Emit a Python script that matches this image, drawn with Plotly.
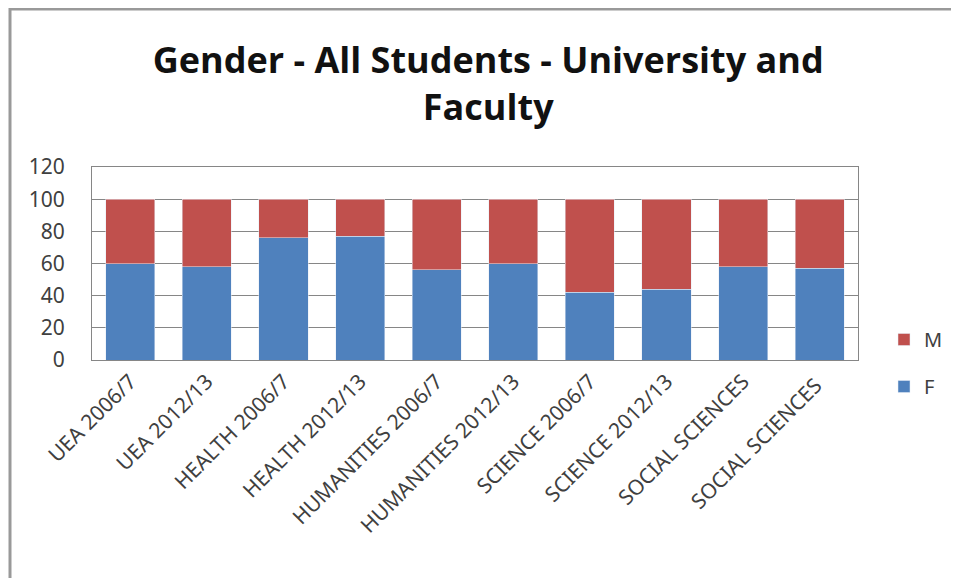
import plotly.graph_objects as go

# categories and values
categories = ["UEA 2006/7", "UEA 2012/13", "HEALTH 2006/7", "HEALTH 2012/13",
              "HUMANITIES 2006/7", "HUMANITIES 2012/13", "SCIENCE 2006/7",
              "SCIENCE 2012/13", "SOCIAL SCIENCES", "SOCIAL SCIENCES "]
female = [60, 58, 76, 77, 56, 60, 42, 44, 58, 57]
male = [100 - v for v in female]
y_ticks = [0, 20, 40, 60, 80, 100, 120]

fig = go.Figure()
fig.add_trace(go.Bar(x=categories, y=female, name="F", marker_color="#4F81BD",
                     legendrank=2, legendgroup="F"))
fig.add_trace(go.Bar(x=categories, y=male, name="M", marker_color="#C0504D",
                     legendrank=1, legendgroup="M"))

# page body has an 8px margin, so the figure is a bit smaller than the window
fig.update_layout(
    width=951, height=570,
    barmode="stack", bargap=0.36,
    paper_bgcolor="white", plot_bgcolor="white",
    margin=dict(l=84, r=101, t=159, b=218, autoexpand=False),
    font=dict(family="Noto Sans, Open Sans, sans-serif", color="#404040"),
    title=dict(text="Gender - All Students - University and<br>Faculty",
               x=0.505, xref="container", xanchor="center",
               y=1 - 65 / 570, yref="container", yanchor="middle",
               font=dict(size=36, color="#111111", family="Open Sans, sans-serif",
                         weight="bold")),
    legend=dict(x=876 / 951, y=1 - 398 / 570, xref="container", yref="container",
                xanchor="left", yanchor="bottom",
                traceorder="grouped", tracegroupgap=18,
                font=dict(size=20, color="#404040"), itemwidth=30),
    showlegend=True,
)

fig.update_xaxes(tickangle=-45, tickfont=dict(size=21), showline=True,
                 linecolor="#868686", mirror=True, ticks="")
fig.update_yaxes(range=[0, 120], tickvals=y_ticks, tickfont=dict(size=21),
                 showgrid=True, gridcolor="#868686", gridwidth=1,
                 showline=True, linecolor="#868686", mirror=True, zeroline=False,
                 ticks="", ticklabelstandoff=22)

# outer chart frame
fig.add_shape(type="rect", xref="paper", yref="paper",
              x0=-82 / 766, x1=1.2, y0=-1.2, y1=1 + 158 / 193,
              line=dict(color="#999999", width=3), layer="above")

fig.write_html("out.html")
